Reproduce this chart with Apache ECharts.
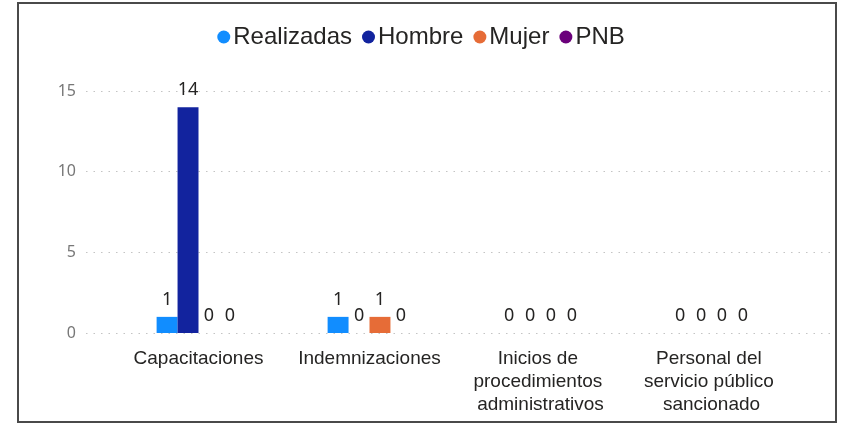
<!DOCTYPE html>
<html>
<head>
<meta charset="utf-8">
<script src="https://cdn.jsdelivr.net/npm/echarts@6/dist/echarts.min.js"></script>
<style>
  html, body { margin: 0; padding: 0; background: #fff; }
  #wrap { position: relative; width: 842px; height: 424px; }
  #chart { width: 842px; height: 424px; }
  #frame {
    position: absolute; left: 17px; top: 2px; width: 816px; height: 417px;
    border: 2px solid #4a4a4a; pointer-events: none;
  }
</style>
</head>
<body>
<div id="wrap">
  <div id="chart"></div>
  <div id="frame"></div>
</div>
<script>
const categories = [
  'Capacitaciones',
  'Indemnizaciones',
  'Inicios de procedimientos administrativos',
  'Personal del servicio público sancionado',
];
const realizadas = [1, 1, 0, 0];
const hombre = [14, 0, 0, 0];
const mujer = [0, 1, 0, 0];
const pnb = [0, 0, 0, 0];
const seriesNames = ['Realizadas', 'Hombre', 'Mujer', 'PNB'];
const colors = ['#118DFF', '#12239E', '#E66C37', '#6B007B'];
const yTicks = { min: 0, max: 15, interval: 5 };

const chart = echarts.init(document.getElementById('chart'));

const numFont = '"Noto Sans", "Open Sans", sans-serif';
const textFont = '"Liberation Sans", Arial, sans-serif';

const barSeries = [realizadas, hombre, mujer, pnb].map((data, i) => ({
  name: seriesNames[i],
  type: 'bar',
  xAxisIndex: 0,
  yAxisIndex: 0,
  data: data,
  barGap: 0,
  barCategoryGap: '51%',
  itemStyle: { color: colors[i] },
  label: {
    show: true,
    position: 'top',
    distance: 8,
    color: '#252423',
    fontSize: 18,
    fontFamily: numFont,
  },
}));

const option = {
  backgroundColor: '#fff',
  animation: false,
  color: colors,
  legend: {
    data: seriesNames,
    top: 20,
    left: 'center',
    icon: 'circle',
    itemWidth: 13,
    itemHeight: 13,
    itemGap: 10,
    textStyle: { color: '#252423', fontSize: 24, fontFamily: textFont, padding: [0, 0, 0, -2] },
  },
  grid: [
    // bars
    { left: 113, right: 45, top: 91, bottom: 91 },
    // background gridlines and y labels
    { left: 86, right: 12, top: 91, bottom: 91 },
  ],
  xAxis: [
    {
      type: 'category',
      gridIndex: 0,
      data: categories,
      axisLine: { show: false },
      axisTick: { show: false },
      axisLabel: {
        interval: 0,
        margin: 14,
        color: '#252423',
        fontSize: 19,
        lineHeight: 23,
        fontFamily: textFont,
        width: 168,
        overflow: 'break',
      },
    },
    {
      type: 'value',
      gridIndex: 1,
      min: 0,
      max: 1,
      show: false,
    },
  ],
  yAxis: [
    {
      type: 'value',
      gridIndex: 0,
      min: yTicks.min,
      max: yTicks.max,
      interval: yTicks.interval,
      show: false,
    },
    {
      type: 'value',
      gridIndex: 1,
      min: yTicks.min,
      max: yTicks.max,
      interval: yTicks.interval,
      axisLine: { show: false },
      axisTick: { show: false },
      axisLabel: { color: '#777', fontSize: 16, fontFamily: numFont, margin: 10 },
      splitLine: { lineStyle: { color: '#c4c4c4', width: 1.2, type: [1.5, 6] } },
    },
  ],
  series: barSeries,
};

chart.setOption(option);
</script>
</body>
</html>
